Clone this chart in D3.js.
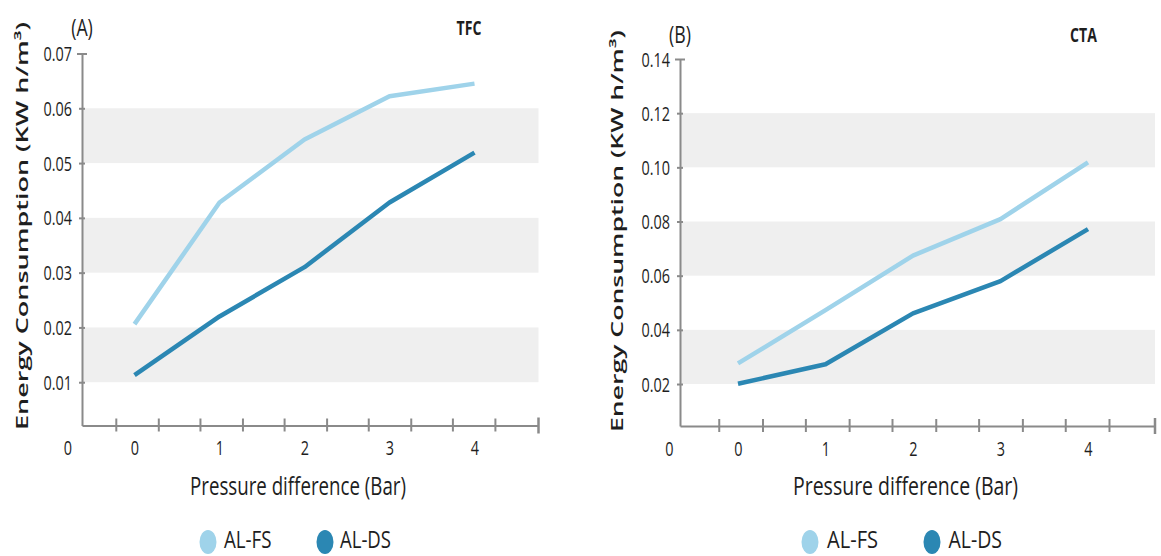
<!DOCTYPE html>
<html>
<head>
<meta charset="utf-8">
<script src="https://cdn.jsdelivr.net/npm/d3@7"></script>
<style>
  html, body { margin: 0; padding: 0; background: #fff; }
  svg { display: block; }
  text { font-family: "Open Sans", "Noto Sans", sans-serif; fill: #1e1e1e; }
</style>
</head>
<body>
<svg id="chart" width="1161" height="556"></svg>
<script>
// Pressure difference (Bar) for each measurement
const pressure = [0, 1, 2, 3, 4];

// Energy consumption (kWh/m³), TFC membrane
const tfcFS = [0.0206, 0.0428, 0.0543, 0.0622, 0.0645];
const tfcDS = [0.0113, 0.0220, 0.0310, 0.0428, 0.0519];

// Energy consumption (kWh/m³), CTA membrane
const ctaFS = [0.0276, 0.0473, 0.0674, 0.0809, 0.1018];
const ctaDS = [0.0201, 0.0273, 0.0461, 0.0580, 0.0772];

const seriesNames = ["AL-FS", "AL-DS"];
const seriesColors = ["#9fd3ea", "#2b87b3"];

// Axis ticks and labels
const tfcYTicks = [0.01, 0.02, 0.03, 0.04, 0.05, 0.06, 0.07];
const ctaYTicks = [0.02, 0.04, 0.06, 0.08, 0.10, 0.12, 0.14];
const tfcBands = [[0.01, 0.02], [0.03, 0.04], [0.05, 0.06]];
const ctaBands = [[0.02, 0.04], [0.06, 0.08], [0.10, 0.12]];
const xLabelValues = [-0.79, 0, 1, 2, 3, 4];
const xLabelText = ["0", "0", "1", "2", "3", "4"];
const xMarkValues = [-0.22, 0.28, 0.77, 1.27, 1.76, 2.26, 2.75, 3.25, 3.74, 4.24];

const SQ = 0.74;            // horizontal compression of the lettering
const AXIS = "#8a8a8a";

const svg = d3.select("#chart");

const panels = [
  {
    tag: "(A)", name: "TFC", fs: tfcFS, ds: tfcDS, yTicks: tfcYTicks, bands: tfcBands,
    yFmt: d3.format(".2f"),
    left: 82, right: 538.5, zero: 134.5, unit: 85,
    bottom: 425.5, yLo: 0.0021, top: 53.5, yHi: 0.07,
    tagPos: [82, 36], namePos: [469, 35],
    yTitle: { x: 28, y: 226, len: 408 },
    xTitle: { x: 298, y: 495, len: 216 },
    legend: [{ cx: 208, tx: 224, len: 47.5 }, { cx: 325, tx: 340, len: 51 }]
  },
  {
    tag: "(B)", name: "CTA", fs: ctaFS, ds: ctaDS, yTicks: ctaYTicks, bands: ctaBands,
    yFmt: d3.format(".2f"),
    left: 680, right: 1155, zero: 738, unit: 87.5,
    bottom: 426, yLo: 0.0045, top: 59, yHi: 0.14,
    tagPos: [680, 43], namePos: [1083.5, 42],
    yTitle: { x: 623, y: 231, len: 402 },
    xTitle: { x: 905.5, y: 495, len: 225 },
    legend: [{ cx: 810, tx: 827, len: 51 }, { cx: 932, tx: 948.5, len: 53.5 }]
  }
];

panels.forEach(p => {
  const g = svg.append("g");

  const x = d3.scaleLinear()
    .domain([(p.left - p.zero) / p.unit, (p.right - p.zero) / p.unit])
    .range([p.left, p.right]);
  const y = d3.scaleLinear().domain([p.yLo, p.yHi]).range([p.bottom, p.top]);

  // alternating background bands
  g.selectAll("rect.band").data(p.bands).join("rect")
    .attr("class", "band")
    .attr("x", x.range()[0])
    .attr("width", x.range()[1] - x.range()[0])
    .attr("y", d => y(d[1]))
    .attr("height", d => y(d[0]) - y(d[1]))
    .attr("fill", "#efefef");

  // y axis
  const yAxis = g.append("g")
    .attr("transform", `translate(${p.left},0)`)
    .call(d3.axisLeft(y).tickValues(p.yTicks).tickFormat(p.yFmt).tickSizeOuter(0).tickSizeInner(0).tickPadding(0));
  yAxis.select(".domain").attr("stroke", AXIS).attr("stroke-width", 2);
  yAxis.selectAll(".tick line")
    .attr("x1", (d, i) => i === p.yTicks.length - 1 ? -5 : -3)
    .attr("x2", (d, i) => i === p.yTicks.length - 1 ? 5 : 3)
    .attr("stroke", AXIS).attr("stroke-width", 2);
  yAxis.selectAll(".tick text")
    .attr("x", null).attr("dy", null)
    .attr("transform", `translate(-10,7) scale(${SQ},1)`)
    .style("font-size", "19.5px").style("font-weight", 500)
    .style("font-family", "'Open Sans', sans-serif")
    .attr("fill", "#1e1e1e");

  // x axis: tick marks
  const xMarks = g.append("g")
    .attr("transform", `translate(0,${p.bottom})`)
    .call(d3.axisBottom(x).tickValues(xMarkValues).tickFormat("").tickSizeOuter(0));
  xMarks.select(".domain").attr("stroke", AXIS).attr("stroke-width", 2);
  xMarks.selectAll(".tick line").attr("y1", -7).attr("y2", 6)
    .attr("stroke", AXIS).attr("stroke-width", 2);
  // closing mark at the right end of the axis
  g.append("line")
    .attr("x1", x.range()[1]).attr("x2", x.range()[1])
    .attr("y1", p.bottom - 8).attr("y2", p.bottom + 8)
    .attr("stroke", AXIS).attr("stroke-width", 2.5);

  // x axis: labels
  const xLabels = g.append("g")
    .attr("transform", `translate(0,${p.bottom})`)
    .call(d3.axisBottom(x).tickValues(xLabelValues)
      .tickFormat((d, i) => xLabelText[i]).tickSize(0));
  xLabels.select(".domain").remove();
  xLabels.selectAll(".tick text")
    .attr("y", null).attr("dy", null)
    .attr("transform", `translate(0,29.5) scale(${SQ},1)`)
    .style("font-size", "19.5px").style("font-weight", 500)
    .style("font-family", "'Open Sans', sans-serif")
    .attr("fill", "#1e1e1e");

  // series lines
  const line = d3.line().x((d, i) => x(pressure[i])).y(d => y(d));
  [p.fs, p.ds].forEach((vals, k) => {
    g.append("path")
      .datum(vals)
      .attr("d", line)
      .attr("fill", "none")
      .attr("stroke", seriesColors[k])
      .attr("stroke-width", 4.5)
      .attr("stroke-linejoin", "round");
  });

  // panel tag and membrane name
  g.append("text")
    .attr("transform", `translate(${p.tagPos[0]},${p.tagPos[1]}) scale(${SQ},1)`)
    .attr("text-anchor", "middle")
    .style("font-size", "24px").style("font-weight", 500)
    .text(p.tag);
  g.append("text")
    .attr("transform", `translate(${p.namePos[0]},${p.namePos[1]}) scale(${SQ},1)`)
    .attr("text-anchor", "middle")
    .style("font-size", "19px").style("font-weight", 700)
    .text(p.name);

  // axis titles
  g.append("text")
    .attr("transform", `translate(${p.yTitle.x},${p.yTitle.y}) scale(${SQ},1) rotate(-90)`)
    .attr("text-anchor", "middle")
    .attr("textLength", p.yTitle.len)
    .attr("lengthAdjust", "spacingAndGlyphs")
    .style("font-size", "22px").style("font-weight", 600)
    .text("Energy Consumption (KW h/m³)");
  g.append("text")
    .attr("x", p.xTitle.x - p.xTitle.len / 2).attr("y", p.xTitle.y)
    .attr("textLength", p.xTitle.len)
    .attr("lengthAdjust", "spacingAndGlyphs")
    .style("font-size", "25px").style("font-weight", 500)
    .text("Pressure difference (Bar)");

  // legend
  p.legend.forEach((L, k) => {
    g.append("ellipse")
      .attr("cx", L.cx).attr("cy", 542)
      .attr("rx", 8.5).attr("ry", 12)
      .attr("fill", seriesColors[k]);
    g.append("text")
      .attr("x", L.tx).attr("y", 548)
      .attr("textLength", L.len)
      .attr("lengthAdjust", "spacingAndGlyphs")
      .style("font-size", "24px").style("font-weight", 500)
      .text(seriesNames[k]);
  });
});
</script>
</body>
</html>
